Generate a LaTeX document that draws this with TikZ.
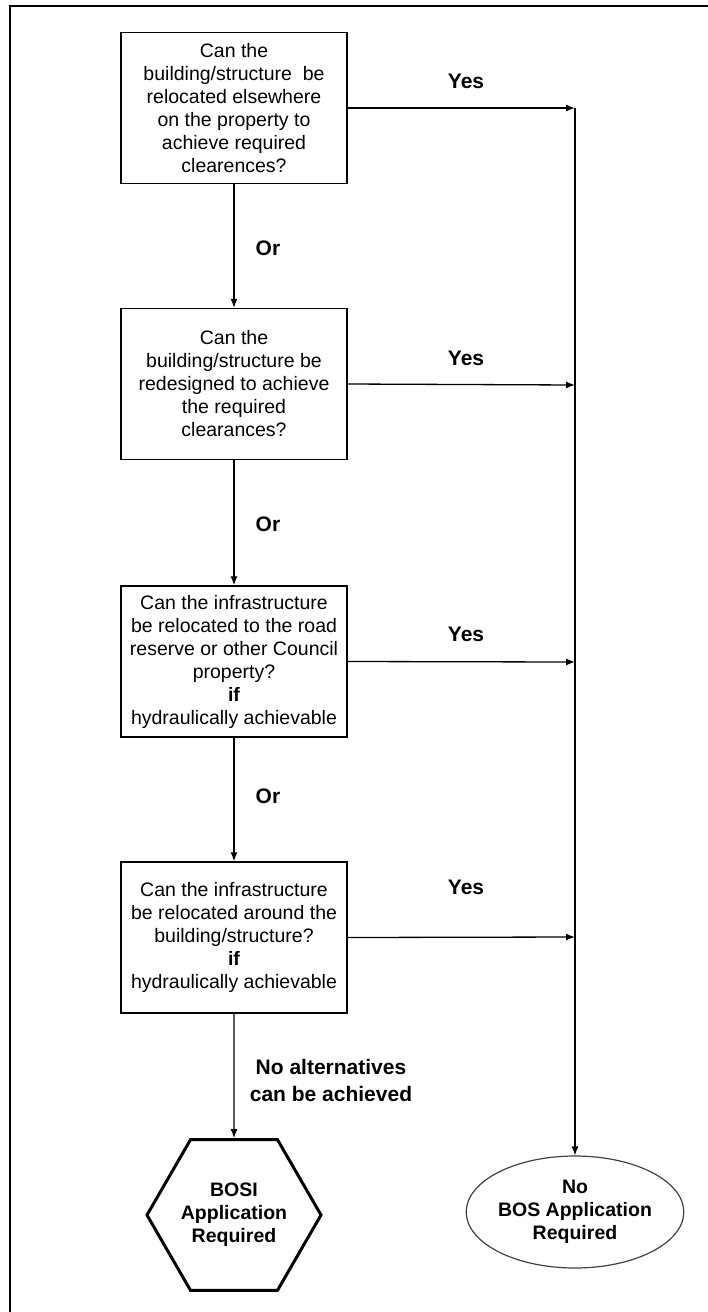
\documentclass[tikz,border=0pt]{standalone}
\usepackage{fontspec}
\setmainfont{Liberation Sans}
\usetikzlibrary{arrows.meta,shapes.geometric}
\begin{document}
\begin{tikzpicture}[x=1pt,y=-1pt,
  qbox/.style={draw,line width=1.4pt,minimum width=226pt,minimum height=151pt,inner sep=0pt,align=center,font=\fontsize{19.5}{23}\selectfont},
  lbl/.style={font=\fontsize{21}{27}\selectfont\bfseries,align=center,inner sep=0pt},
  conn/.style={line width=1.3pt,-{Latex[length=9pt,width=7pt]}},
  plain/.style={line width=1.3pt}]
\useasboundingbox (0,0) rectangle (708,1312);
\draw[line width=2.5pt] (708,6) -- (10,6) -- (10,1312);

\node[qbox] (b1) at (234,108) {Can the\\building/structure\ \ be\\relocated elsewhere\\on the property to\\achieve required\\clearences?};
\node[qbox] (b2) at (234,384) {Can the\\building/structure be\\redesigned to achieve\\the required\\clearances?};
\node[qbox] (b3) at (234,661.5) {Can the infrastructure\\be relocated to the road\\reserve or other Council\\property?\\\textbf{if}\\hydraulically achievable};
\node[qbox] (b4) at (234,937.5) {Can the infrastructure\\be relocated around the\\building/structure?\\\textbf{if}\\hydraulically achievable};

\node[draw,line width=3pt,regular polygon,regular polygon sides=6,minimum size=174pt,inner sep=0pt,align=center,font=\fontsize{19.5}{23}\selectfont\bfseries] (hex) at (234,1215) {BOSI\\Application\\Required};
\node[draw,draw=black!75,line width=1.2pt,ellipse,minimum width=212pt,minimum height=112pt,inner sep=0pt,align=center,font=\fontsize{19.5}{23}\selectfont\bfseries] (ell) at (575,1212) {No\\BOS Application\\Required};

\coordinate (j1) at (575,108);
\coordinate (j2) at (575,385);
\coordinate (j3) at (575,662);
\coordinate (j4) at (575,937);

\draw[conn] (b1.east) -- (j1);
\draw[conn] (b2.east) -- (j2);
\draw[conn] (b3.east) -- (j3);
\draw[conn] (b4.east) -- (j4);
\draw[conn] (j1) -- (ell.north);

\draw[conn] (b1.south) -- (b2.north);
\draw[conn] (b2.south) -- (b3.north);
\draw[conn] (b3.south) -- (b4.north);
\draw[conn] (b4.south) -- (hex.north);

\node[lbl] (y1) at (466,81) {Yes};
\node[lbl] (y2) at (466,358) {Yes};
\node[lbl] (y3) at (466,634) {Yes};
\node[lbl] (y4) at (466,887) {Yes};
\node[lbl] (o1) at (268,248) {Or};
\node[lbl] (o2) at (268,524) {Or};
\node[lbl] (o3) at (268,796) {Or};
\node[lbl] (na) at (331,1080) {No alternatives\\can be achieved};
\end{tikzpicture}
\end{document}
